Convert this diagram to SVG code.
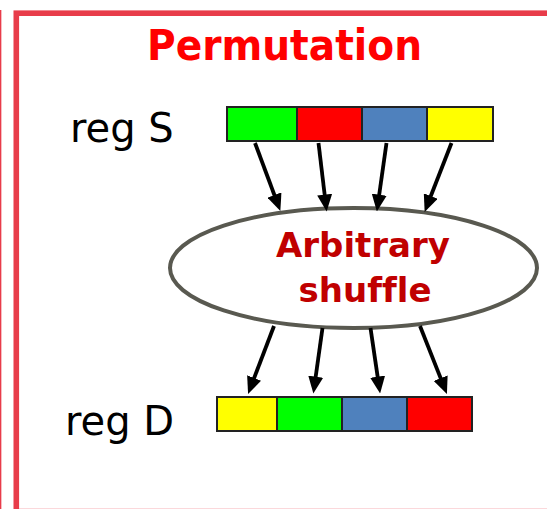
<svg xmlns="http://www.w3.org/2000/svg" width="547" height="509" viewBox="0 0 547 509">
  <style>
    .frame { fill: none; stroke: #e83c4a; }
    .title { font-family: "DejaVu Sans", Verdana, sans-serif; font-weight: bold; font-size: 42px; fill: #ff0000; }
    .label { font-family: "DejaVu Sans", Verdana, sans-serif; font-size: 40px; fill: #000000; }
    .op { font-family: "DejaVu Sans", Verdana, sans-serif; font-weight: bold; font-size: 34px; fill: #c00000; text-anchor: middle; font-variant-ligatures: none; }
    .cell { stroke: #222222; stroke-width: 2; }
    .g { fill: #00ff00; }
    .r { fill: #ff0000; }
    .b { fill: #4f81bd; }
    .y { fill: #ffff00; }
    .arrow { stroke: #000000; stroke-width: 3.8; fill: none; marker-end: url(#head); }
  </style>
  <defs>
    <marker id="head" viewBox="0 0 17 15" refX="8" refY="7.5" markerWidth="17" markerHeight="15" markerUnits="userSpaceOnUse" orient="auto">
      <path d="M0,0 L17,7.5 L0,15 Z" fill="#000000"/>
    </marker>
  </defs>

  <rect width="547" height="509" fill="#ffffff"/>

  <!-- panel frames -->
  <line class="frame" x1="0.6" y1="10" x2="0.6" y2="509" stroke-width="1.5"/>
  <rect class="frame" x="16.3" y="13.2" width="560" height="498.4" stroke-width="5.6"/>

  <text class="title" x="147" y="60" textLength="275" lengthAdjust="spacingAndGlyphs">Permutation</text>

  <g id="regS">
    <text class="label" x="70" y="142">reg S</text>
    <rect class="cell g" x="227" y="107" width="70" height="34"/>
    <rect class="cell r" x="297" y="107" width="65" height="34"/>
    <rect class="cell b" x="362" y="107" width="65" height="34"/>
    <rect class="cell y" x="427" y="107" width="66" height="34"/>
  </g>

  <g id="shuffle">
    <ellipse cx="353.5" cy="268" rx="183.5" ry="60" fill="#ffffff" stroke="#595950" stroke-width="4"/>
    <text class="op" x="363" y="257">Arbitrary</text>
    <text class="op" x="365" y="302">shuffle</text>
  </g>

  <g id="regD">
    <text class="label" x="65" y="435">reg D</text>
    <rect class="cell y" x="217" y="397" width="60" height="34"/>
    <rect class="cell g" x="277" y="397" width="65" height="34"/>
    <rect class="cell b" x="342" y="397" width="65" height="34"/>
    <rect class="cell r" x="407" y="397" width="65" height="34"/>
  </g>

  <g id="connectors">
    <line class="arrow" x1="255" y1="143" x2="277.2" y2="202.5"/>
    <line class="arrow" x1="318.5" y1="143" x2="325.6" y2="202.6"/>
    <line class="arrow" x1="386.5" y1="143" x2="378.1" y2="202.6"/>
    <line class="arrow" x1="451.5" y1="143" x2="427.9" y2="203.5"/>
    <line class="arrow" x1="274" y1="326" x2="251.3" y2="385.5"/>
    <line class="arrow" x1="322.5" y1="328" x2="314.6" y2="384.6"/>
    <line class="arrow" x1="370.5" y1="328" x2="378.8" y2="384.6"/>
    <line class="arrow" x1="420" y1="326" x2="443.6" y2="385.6"/>
  </g>
</svg>
